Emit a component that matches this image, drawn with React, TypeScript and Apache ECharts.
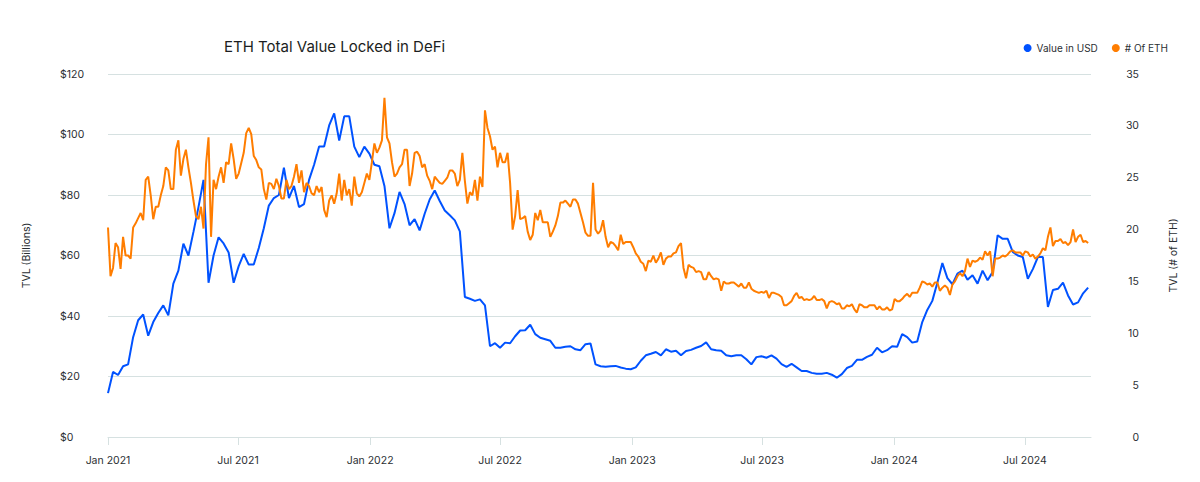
import React, { useEffect, useRef } from "react";
import * as echarts from "echarts";

// Weekly samples starting 2021-01-01 (mid-week samples for # of ETH sit half a week later)
const START_YEAR = 2021;
const START_MONTH = 0;
const START_DAY = 1;
const STEP_DAYS = 7;

// TVL in USD billions (left axis), weekly
const valueUSD = [
  14.5, 21.5, 20.5, 23.4, 24, 33, 38.6, 40.5, 33.5, 38, 41, 43.5, 40.2, 50.7, 55, 63.9, 60, 67.8, 76, 85,
  51, 60, 66, 64, 61, 51, 56.5, 60.5, 57, 57, 62.5, 69, 76.5, 79, 80, 89, 79, 83, 76, 77,
  85, 90, 96, 96, 103, 107, 98, 106, 106, 96, 92.5, 96, 93.7, 90, 89.5, 83, 69, 74, 81, 77,
  70, 72, 68.3, 73.8, 78.5, 81.5, 78, 74.9, 73.3, 71.6, 68, 46.3, 45.7, 45, 45.5, 43.5, 30, 31, 29.5, 31.2,
  31, 33.3, 35.2, 35.3, 37.1, 34, 32.8, 32.3, 31.8, 29.5, 29.5, 29.8, 30, 29, 28.7, 30.7, 30.9, 24, 23.4, 23.2,
  23.4, 23.5, 23, 22.6, 22.4, 23, 25.2, 27, 27.5, 28.1, 27, 29, 28.2, 28.5, 27, 28.4, 28.8, 29.5, 30.1, 31.3,
  29, 28.7, 28.5, 27, 26.7, 27, 27, 25.7, 24, 26.4, 26.7, 26.2, 27, 25.9, 24.1, 23.2, 24.2, 23, 21.8, 21.8,
  21.2, 20.9, 20.9, 21.2, 20.6, 19.6, 20.8, 22.8, 23.5, 25.5, 25.5, 26.5, 27.2, 29.5, 28, 28.7, 30, 29.8, 34, 33,
  31.2, 31.6, 38, 42, 45, 51, 57.5, 52.5, 50.5, 54, 55, 52, 53.5, 50.7, 55, 51.8, 54.5, 66.7, 65.5, 65.5,
  61.2, 60, 59.5, 52.3, 55.5, 59.5, 59.5, 43, 48.6, 49, 51, 46.8, 43.8, 44.5, 47.5, 49.4,
];

// TVL in millions of ETH (right axis), weekly
const valueETH = [
  20.2, 16.3, 18.3, 19.3, 17.5, 20.2, 21.1, 20.9, 25.1, 21.0, 22.2, 24.2, 25.7, 23.9, 28.6, 26.8, 26.0, 22.8, 21.0, 20.1,
  28.9, 24.8, 25.1, 24.5, 26.3, 26.8, 25.4, 27.4, 29.8, 27.1, 26.0, 23.9, 24.5, 23.9, 24.2, 23.0, 23.9, 25.1, 24.5, 23.6,
  24.2, 23.3, 23.6, 21.9, 22.8, 22.5, 25.4, 24.8, 23.9, 25.1, 23.2, 24.5, 24.8, 28.3, 27.9, 32.7, 28.3, 25.1, 26.0, 27.7,
  24.2, 27.4, 27.1, 26.3, 24.7, 25.1, 24.5, 24.7, 25.7, 25.4, 24.8, 24.7, 23.6, 24.8, 25.1, 31.5, 29.0, 28.0, 27.4, 26.5,
  24.5, 21.3, 21.0, 21.3, 19.0, 21.6, 21.9, 20.7, 19.3, 20.4, 22.6, 22.8, 22.2, 22.9, 21.6, 19.7, 19.4, 20.0, 19.9, 19.3,
  18.8, 18.4, 19.5, 18.8, 18.8, 17.7, 16.9, 16.0, 16.9, 16.8, 17.8, 17.2, 17.4, 17.8, 18.7, 15.3, 16.4, 15.9, 15.9, 15.2,
  15.5, 15.3, 14.1, 14.8, 14.9, 14.7, 14.8, 14.4, 14.3, 14.0, 14.0, 14.1, 13.9, 13.8, 13.5, 12.7, 13.1, 13.9, 13.5, 13.3,
  13.3, 13.2, 13.3, 12.4, 13.1, 12.8, 12.4, 12.7, 12.8, 12.0, 12.7, 12.5, 12.7, 12.3, 12.3, 12.5, 12.3, 13.1, 13.3, 13.8,
  13.9, 13.9, 15.0, 14.7, 14.5, 14.9, 14.4, 14.4, 14.7, 15.5, 15.5, 17.2, 17.0, 17.0, 17.1, 17.5, 15.5, 17.2, 17.5, 17.6,
  18.0, 17.8, 17.5, 17.8, 17.6, 17.4, 18.2, 19.3, 18.4, 18.9, 18.7, 18.5, 20.0, 19.3, 18.8, 18.7,
];

// TVL in millions of ETH, mid-week samples (between consecutive weekly samples)
const valueETHMid = [
  15.5, 18.7, 16.2, 17.5, 17.2, 20.6, 21.6, 24.8, 23.3, 22.2, 23.3, 26.0, 23.9, 27.7, 25.2, 27.7, 24.5, 21.3, 22.2, 26.3,
  19.3, 23.9, 26.0, 26.5, 28.3, 24.9, 26.4, 29.3, 29.2, 26.7, 25.8, 22.9, 24.4, 24.9, 23.0, 24.8, 24.2, 26.3, 25.7, 24.5,
  23.5, 24.2, 24.1, 21.2, 23.3, 23.5, 22.8, 23.3, 22.3, 23.5, 23.6, 25.4, 26.5, 27.4, 28.6, 28.9, 26.5, 25.4, 26.3, 27.7,
  25.4, 27.5, 26.0, 25.2, 23.9, 24.8, 24.4, 25.0, 25.7, 24.2, 27.4, 22.5, 23.3, 22.8, 24.1, 29.8, 27.7, 26.0, 26.5, 27.4,
  20.0, 23.8, 21.1, 19.8, 19.5, 20.9, 20.7, 20.7, 19.8, 21.3, 22.6, 22.5, 22.9, 22.5, 20.7, 19.4, 24.5, 19.6, 20.9, 18.3,
  18.7, 18.0, 18.6, 18.8, 18.3, 17.4, 16.7, 17.0, 17.5, 17.2, 16.6, 17.4, 17.7, 18.4, 16.3, 16.6, 16.3, 16.0, 15.2, 15.9,
  15.2, 15.2, 15.0, 14.8, 14.9, 14.5, 14.4, 14.9, 14.1, 13.9, 13.9, 13.4, 13.9, 13.7, 12.7, 12.9, 13.6, 13.4, 13.2, 13.2,
  13.6, 13.2, 13.1, 13.0, 13.0, 12.9, 12.4, 12.6, 12.3, 12.8, 12.5, 12.7, 12.7, 12.6, 12.3, 12.2, 13.3, 13.1, 13.6, 13.5,
  13.9, 14.4, 14.9, 14.8, 14.9, 14.1, 14.6, 13.7, 15.0, 15.8, 16.0, 16.4, 16.9, 17.3, 17.9, 17.9, 17.2, 17.3, 17.4, 17.9,
  17.8, 17.8, 17.9, 17.4, 17.2, 17.7, 18.0, 20.2, 18.9, 19.1, 18.8, 18.8, 18.8, 19.5, 18.9,
];

const MONTHS = ["Jan", "Feb", "Mar", "Apr", "May", "Jun", "Jul", "Aug", "Sep", "Oct", "Nov", "Dec"];
const AXIS_MIN = "2021-01-01";
const AXIS_MAX = "2024-10-01";

const FONT = "Inter, 'Noto Sans', sans-serif";
const BLUE = "#0052ff";
const ORANGE = "#ff7d00";
const GRID = "#d6e1e1";
const TEXT = "#2b2f33";

function dateAt(i: number, midWeek = false): number {
  return new Date(START_YEAR, START_MONTH, START_DAY + i * STEP_DAYS + (midWeek ? 3 : 0), midWeek ? 12 : 0).getTime();
}

export default function App() {
  const ref = useRef<HTMLDivElement>(null);
  useEffect(() => {
    document.body.style.margin = "0";
    if (!ref.current) return;
    const chart = echarts.init(ref.current, null, { renderer: "svg" });
    const usd = valueUSD.map((v, i) => [dateAt(i), v]);
    const eth: number[][] = [];
    valueETH.forEach((v, i) => {
      eth.push([dateAt(i), v]);
      if (i < valueETHMid.length) eth.push([dateAt(i, true), valueETHMid[i]]);
    });
    const halfYear = 1000 * 3600 * 24 * 182;
    chart.setOption({
      animation: false,
      backgroundColor: "#ffffff",
      textStyle: { fontFamily: FONT },
      title: {
        text: "ETH Total Value Locked in DeFi",
        left: 219,
        top: 34,
        textStyle: { fontFamily: FONT, fontSize: 15, fontWeight: 400, color: "#1b1e21" },
      },
      legend: {
        right: 27,
        top: 38,
        icon: "circle",
        itemWidth: 8,
        itemHeight: 8,
        itemGap: 14,
        itemTextGap: 5,
        textStyle: { fontFamily: FONT, fontSize: 10, color: TEXT },
        data: ["Value in USD", "# Of ETH"],
      },
      grid: { left: 108, right: 109, top: 74, bottom: 45, containLabel: false },
      xAxis: {
        type: "time",
        min: AXIS_MIN,
        max: AXIS_MAX,
        minInterval: halfYear,
        maxInterval: halfYear + 1000 * 3600 * 24 * 3,
        axisLine: { show: true, lineStyle: { color: GRID, width: 1 } },
        axisTick: { show: true, length: 8, lineStyle: { color: GRID } },
        splitLine: { show: false },
        axisLabel: {
          margin: 18,
          fontSize: 10.5,
          color: TEXT,
          fontFamily: FONT,
          formatter: (val: number) => {
            const d = new Date(val);
            return MONTHS[d.getMonth()] + " " + d.getFullYear();
          },
        },
      },
      yAxis: [
        {
          type: "value",
          min: 0,
          max: 120,
          interval: 20,
          name: "TVL (Billions)",
          nameLocation: "middle",
          nameGap: 76,
          nameTextStyle: { fontFamily: FONT, fontSize: 10.5, color: TEXT },
          axisLine: { show: false },
          axisTick: { show: false },
          splitLine: { show: true, lineStyle: { color: GRID, width: 1 } },
          axisLabel: {
            align: "left",
            margin: 48,
            fontSize: 10.5,
            color: TEXT,
            fontFamily: FONT,
            formatter: (v: number) => "$" + v,
          },
        },
        {
          type: "value",
          min: 0,
          max: 35,
          interval: 5,
          position: "right",
          name: "TVL (# of ETH)",
          nameLocation: "middle",
          nameGap: 77,
          nameTextStyle: { fontFamily: FONT, fontSize: 10.5, color: TEXT },
          axisLine: { show: false },
          axisTick: { show: false },
          splitLine: { show: false },
          axisLabel: {
            align: "right",
            margin: 48,
            fontSize: 10.5,
            color: TEXT,
            fontFamily: FONT,
          },
        },
      ],
      series: [
        {
          name: "Value in USD",
          type: "line",
          yAxisIndex: 0,
          data: usd,
          showSymbol: false,
          symbol: "circle",
          color: BLUE,
          lineStyle: { color: BLUE, width: 2 },
        },
        {
          name: "# Of ETH",
          type: "line",
          yAxisIndex: 1,
          data: eth,
          showSymbol: false,
          symbol: "circle",
          color: ORANGE,
          lineStyle: { color: ORANGE, width: 2 },
        },
      ],
    });
    return () => chart.dispose();
  }, []);
  return <div ref={ref} style={{ width: 1200, height: 482 }} />;
}
